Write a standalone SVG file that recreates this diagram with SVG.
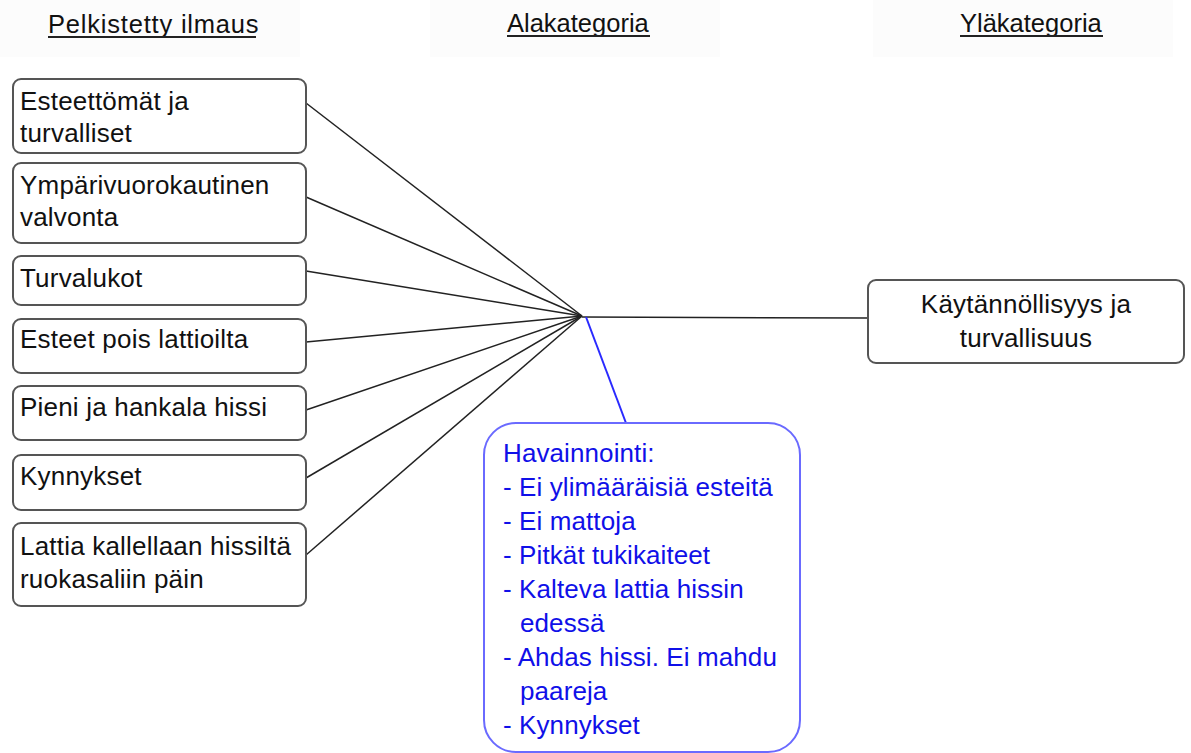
<svg xmlns="http://www.w3.org/2000/svg" width="1191" height="753" viewBox="0 0 1191 753">
  <style>
    .hdr { font-family: "Liberation Sans", Arial, sans-serif; font-size: 25.5px; fill: #111; }
    .ul { stroke: #222; stroke-width: 2; }
    .box { fill: #fff; stroke: #555; stroke-width: 2; }
    .lbl { font-family: "Liberation Sans", Arial, sans-serif; font-size: 26px; letter-spacing: 0.2px; fill: #111; }
    .conn { stroke: #222; stroke-width: 1.5; fill: none; }
    .note { fill: #fff; stroke: #6a6aff; stroke-width: 2; }
    .noteTxt { font-family: "Liberation Sans", Arial, sans-serif; font-size: 26px; letter-spacing: 0.1px; fill: #1010e8; }
    .band { fill: #fcfcfc; }
  </style>

  <rect width="1191" height="753" fill="#fff"/>

  <!-- column headings -->
  <g id="headings">
    <rect class="band" x="0" y="0" width="300" height="57"/>
    <rect class="band" x="430" y="0" width="290" height="57"/>
    <rect class="band" x="873" y="0" width="300" height="57"/>
    <text class="hdr" x="48" y="33" letter-spacing="0.8">Pelkistetty ilmaus</text>
    <line class="ul" x1="48" y1="37" x2="256" y2="37"/>
    <text class="hdr" x="507" y="32">Alakategoria</text>
    <line class="ul" x1="507" y1="36" x2="650" y2="36"/>
    <text class="hdr" x="960" y="32">Yläkategoria</text>
    <line class="ul" x1="960" y1="36" x2="1103" y2="36"/>
  </g>

  <!-- connectors -->
  <g id="connectors">
    <line class="conn" x1="306" y1="103" x2="582" y2="316"/>
    <line class="conn" x1="306" y1="197" x2="582" y2="316"/>
    <line class="conn" x1="306" y1="271" x2="582" y2="316"/>
    <line class="conn" x1="306" y1="342" x2="582" y2="316"/>
    <line class="conn" x1="306" y1="410" x2="582" y2="316"/>
    <line class="conn" x1="306" y1="478" x2="582" y2="316"/>
    <line class="conn" x1="306" y1="555" x2="582" y2="316"/>
    <line class="conn" x1="582" y1="317" x2="868" y2="318"/>
    <line x1="586" y1="317" x2="626" y2="423" stroke="#2a2aff" stroke-width="2"/>
  </g>

  <!-- simplified expressions -->
  <g id="n1">
    <rect class="box" x="13" y="79" width="293" height="74" rx="8"/>
    <text class="lbl" x="20" y="110">Esteettömät ja</text>
    <text class="lbl" x="20" y="142">turvalliset</text>
  </g>
  <g id="n2">
    <rect class="box" x="13" y="163" width="293" height="80" rx="8"/>
    <text class="lbl" x="20" y="194">Ympärivuorokautinen</text>
    <text class="lbl" x="20" y="226">valvonta</text>
  </g>
  <g id="n3">
    <rect class="box" x="13" y="256" width="293" height="49" rx="8"/>
    <text class="lbl" x="20" y="287">Turvalukot</text>
  </g>
  <g id="n4">
    <rect class="box" x="13" y="319" width="293" height="54" rx="8"/>
    <text class="lbl" x="20" y="348">Esteet pois lattioilta</text>
  </g>
  <g id="n5">
    <rect class="box" x="13" y="386" width="293" height="54" rx="8"/>
    <text class="lbl" x="20" y="416">Pieni ja hankala hissi</text>
  </g>
  <g id="n6">
    <rect class="box" x="13" y="455" width="293" height="55" rx="8"/>
    <text class="lbl" x="20" y="485">Kynnykset</text>
  </g>
  <g id="n7">
    <rect class="box" x="13" y="523" width="293" height="83" rx="8"/>
    <text class="lbl" x="20" y="555">Lattia kallellaan hissiltä</text>
    <text class="lbl" x="20" y="588">ruokasaliin päin</text>
  </g>

  <!-- upper category -->
  <g id="upper">
    <rect class="box" x="868" y="280" width="316" height="83" rx="8"/>
    <text class="lbl" x="1026" y="313" text-anchor="middle">Käytännöllisyys ja</text>
    <text class="lbl" x="1026" y="347" text-anchor="middle">turvallisuus</text>
  </g>

  <!-- observation note -->
  <g id="observation">
    <rect class="note" x="484" y="423" width="316" height="329" rx="32"/>
    <text class="noteTxt" x="503" y="462">Havainnointi:</text>
    <text class="noteTxt" x="503" y="496">- Ei ylimääräisiä esteitä</text>
    <text class="noteTxt" x="503" y="530">- Ei mattoja</text>
    <text class="noteTxt" x="503" y="564">- Pitkät tukikaiteet</text>
    <text class="noteTxt" x="503" y="598">- Kalteva lattia hissin</text>
    <text class="noteTxt" x="520" y="632">edessä</text>
    <text class="noteTxt" x="503" y="666">- Ahdas hissi. Ei mahdu</text>
    <text class="noteTxt" x="520" y="700">paareja</text>
    <text class="noteTxt" x="503" y="734">- Kynnykset</text>
  </g>
</svg>
